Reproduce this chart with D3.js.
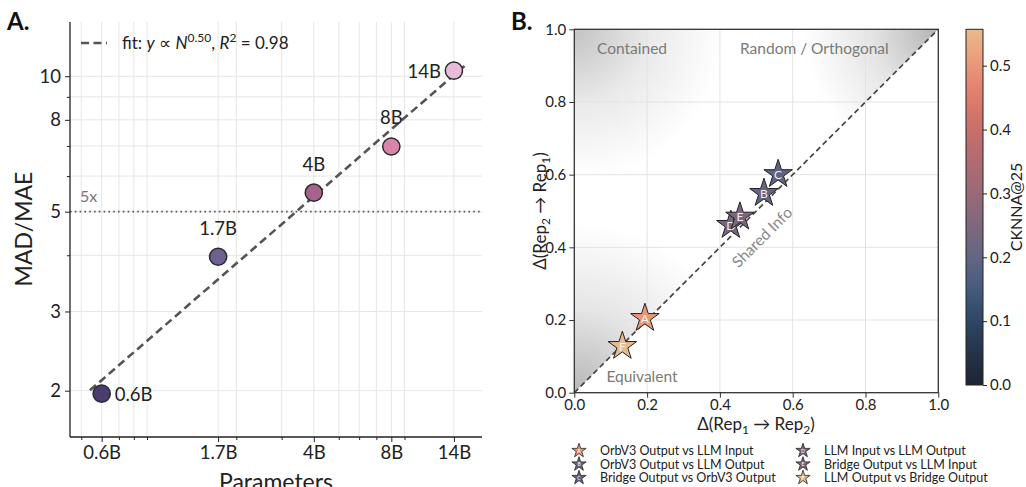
<!DOCTYPE html>
<html>
<head>
<meta charset="utf-8">
<script src="https://cdn.jsdelivr.net/npm/d3@7"></script>
<style>
  body { margin: 0; background: #fff; }
  svg text { font-family: Lato, "DejaVu Sans", sans-serif; }
</style>
</head>
<body>
<svg id="chart" width="1026" height="487"></svg>
<script>
// ---- panel A : scaling of MAD/MAE with model size
const model_names  = ['0.6B', '1.7B', '4B', '8B', '14B'];
const model_params = [0.6, 1.7, 4, 8, 14];            // billions
const mad_mae      = [1.97, 3.97, 5.51, 6.98, 10.29];
const model_colors = ['#4a3d6e', '#705f91', '#a8628e', '#d984ab', '#e8bcd8'];
const a_major_x = [0.6, 1.7, 4, 8, 14];
const a_minor_x = [0.5, 0.7, 0.8, 0.9, 2, 3, 5, 6, 7, 9];
const a_major_y = [2, 3, 5, 8, 10];
const a_minor_y = [4, 6, 7, 9];
const threshold = 5;

// ---- panel B : information deltas between representations
const pair_ids = ['A', 'B', 'C', 'D', 'E', 'F'];
const pair_names = [
  'OrbV3 Output vs LLM Input',
  'OrbV3 Output vs LLM Output',
  'Bridge Output vs OrbV3 Output',
  'LLM Input vs LLM Output',
  'Bridge Output vs LLM Input',
  'LLM Output vs Bridge Output'
];
const delta_12 = [0.194, 0.521, 0.560, 0.430, 0.455, 0.132];
const delta_21 = [0.205, 0.549, 0.601, 0.461, 0.484, 0.128];
const cknna    = [0.50, 0.20, 0.19, 0.235, 0.24, 0.557];
const b_ticks  = [0, 0.2, 0.4, 0.6, 0.8, 1.0];
const cb_ticks = [0, 0.1, 0.2, 0.3, 0.4, 0.5];
const cmap_colors = ['#1b2435', '#243447', '#2e4766', '#475b7e', '#656683', '#80687e',
                     '#9a6a77', '#b26b71', '#ca706b', '#df7f6c', '#ea9a7b', '#e8bb8e'];

const svg = d3.select('#chart');
const defs = svg.append('defs');

// =============== panel A ===============
let a_left = 70, a_right = 482, a_top = 22, a_bottom = 437;
let xA = d3.scaleLog().domain([0.452, 18]).range([a_left, a_right]);
let yA = d3.scaleLog().domain([1.578, 13.2]).range([a_bottom, a_top]);

let gA = svg.append('g').attr('class', 'panel_a');

// grid
gA.append('g').selectAll('line').data(a_major_x.concat(a_minor_x)).enter().append('line')
  .attr('x1', d => xA(d)).attr('x2', d => xA(d)).attr('y1', a_top).attr('y2', a_bottom)
  .attr('stroke', '#e6e6e6').attr('stroke-width', 1);
gA.append('g').selectAll('line').data(a_major_y.concat(a_minor_y)).enter().append('line')
  .attr('y1', d => yA(d)).attr('y2', d => yA(d)).attr('x1', a_left).attr('x2', a_right)
  .attr('stroke', '#e6e6e6').attr('stroke-width', 1);

// 5x threshold
gA.append('line')
  .attr('x1', a_left).attr('x2', a_right).attr('y1', yA(threshold)).attr('y2', yA(threshold))
  .attr('stroke', '#555').attr('stroke-width', 1.8).attr('stroke-dasharray', '1.6,3.2');
gA.append('text').attr('x', 80).attr('y', yA(threshold) - 10)
  .attr('fill', '#777').attr('font-size', 16).text(threshold + 'x');

// power-law fit in log-log space
let lx = model_params.map(Math.log10), ly = mad_mae.map(Math.log10);
let mx = d3.mean(lx), my = d3.mean(ly);
let sxy = d3.sum(lx, (v, i) => (v - mx) * (ly[i] - my));
let sxx = d3.sum(lx, v => (v - mx) * (v - mx));
let slope = sxy / sxx, icpt = my - slope * mx;
let ss_res = d3.sum(lx, (v, i) => Math.pow(ly[i] - (icpt + slope * v), 2));
let ss_tot = d3.sum(ly, v => (v - my) * (v - my));
let r2 = 1 - ss_res / ss_tot;
let fit_x = [d3.min(model_params) * 0.9, d3.max(model_params) * 1.1];
let fitLine = d3.line().x(d => xA(d)).y(d => yA(Math.pow(10, icpt + slope * Math.log10(d))));
gA.append('path').attr('d', fitLine(fit_x))
  .attr('fill', 'none').attr('stroke', '#555').attr('stroke-width', 2.6).attr('stroke-dasharray', '8,4.5');

// axes
let axA_x = d3.axisBottom(xA).tickValues(a_major_x).tickFormat((d, i) => model_names[i]).tickSize(5).tickPadding(4);
let axA_xm = d3.axisBottom(xA).tickValues(a_minor_x).tickFormat('').tickSize(3);
let axA_y = d3.axisLeft(yA).tickValues(a_major_y).tickFormat(d3.format('d')).tickSize(5).tickPadding(4);
let axA_ym = d3.axisLeft(yA).tickValues(a_minor_y).tickFormat('').tickSize(3);
[axA_x, axA_xm].forEach(ax => gA.append('g').attr('class', 'axis').attr('transform', 'translate(0,' + a_bottom + ')').call(ax));
[axA_y, axA_ym].forEach(ax => gA.append('g').attr('class', 'axis').attr('transform', 'translate(' + a_left + ',0)').call(ax));
gA.selectAll('.axis path.domain').remove();
gA.append('line').attr('x1', a_left).attr('x2', a_left).attr('y1', a_top).attr('y2', a_bottom).attr('stroke', '#222').attr('stroke-width', 1.3);
gA.append('line').attr('x1', a_left).attr('x2', a_right).attr('y1', a_bottom).attr('y2', a_bottom).attr('stroke', '#222').attr('stroke-width', 1.3);
gA.selectAll('.axis text').attr('font-size', 18.5).attr('fill', '#222');
gA.selectAll('.axis line').attr('stroke', '#222');

// points
gA.append('g').selectAll('circle').data(model_params).enter().append('circle')
  .attr('cx', d => xA(d)).attr('cy', (d, i) => yA(mad_mae[i])).attr('r', 8.6)
  .attr('fill', (d, i) => model_colors[i]).attr('stroke', '#2a2a2a').attr('stroke-width', 1.5);

// point labels: first to the right, last to the left, others above
let n_models = model_names.length;
gA.append('g').selectAll('text').data(model_names).enter().append('text')
  .attr('x', (d, i) => i == 0 ? xA(model_params[i]) + 13 : i == n_models - 1 ? xA(model_params[i]) - 13 : xA(model_params[i]))
  .attr('y', (d, i) => i == 0 || i == n_models - 1 ? yA(mad_mae[i]) + 7 : yA(mad_mae[i]) - 22)
  .attr('text-anchor', (d, i) => i == 0 ? 'start' : i == n_models - 1 ? 'end' : 'middle')
  .attr('font-size', 18.5).attr('fill', '#222').text(d => d);

// legend
gA.append('line').attr('x1', 81).attr('x2', 107).attr('y1', 43).attr('y2', 43)
  .attr('stroke', '#555').attr('stroke-width', 2.6).attr('stroke-dasharray', '8,4.5');
let lt = gA.append('text').attr('x', 122).attr('y', 48.5).attr('font-size', 17).attr('fill', '#222');
lt.append('tspan').text('fit: ');
lt.append('tspan').attr('font-style', 'italic').text('y');
lt.append('tspan').text(' \u221d ');
lt.append('tspan').attr('font-style', 'italic').text('N');
lt.append('tspan').attr('font-size', 12).attr('dy', -7).text(slope.toFixed(2));
lt.append('tspan').attr('dy', 7).text(', ');
lt.append('tspan').attr('font-style', 'italic').text('R');
lt.append('tspan').attr('font-size', 12).attr('dy', -7).text('2');
lt.append('tspan').attr('dy', 7).text(' = ' + r2.toFixed(2));

// labels
svg.append('text').attr('transform', 'translate(32,229) rotate(-90)').attr('text-anchor', 'middle')
  .attr('font-size', 23).attr('fill', '#222').text('MAD/MAE');
svg.append('text').attr('x', 276).attr('y', 490).attr('text-anchor', 'middle')
  .attr('font-size', 23).attr('fill', '#222').text('Parameters');
svg.append('text').attr('x', 7).attr('y', 30).attr('font-size', 24).attr('font-weight', 'bold').attr('fill', '#111').text('A.');
svg.append('text').attr('x', 511).attr('y', 30).attr('font-size', 24).attr('font-weight', 'bold').attr('fill', '#111').text('B.');

// =============== panel B ===============
let b_left = 574.3, b_right = 938.3, b_top = 29.3, b_bottom = 392.7;
let xB = d3.scaleLinear().domain([0, 1]).range([b_left, b_right]);
let yB = d3.scaleLinear().domain([0, 1]).range([b_bottom, b_top]);
let gB = svg.append('g').attr('class', 'panel_b');

let vmax = d3.max(cknna);
let cmap = d3.scaleLinear().domain(cmap_colors.map((c, i) => i / (cmap_colors.length - 1) * vmax))
  .range(cmap_colors).interpolate(d3.interpolateRgb).clamp(true);

// shaded triangle above the diagonal
defs.append('clipPath').attr('id', 'tri').append('path')
  .attr('d', 'M' + xB(0) + ',' + yB(0) + 'L' + xB(0) + ',' + yB(1) + 'L' + xB(1) + ',' + yB(1) + 'Z');
let corners = [
  {id: 'g_tl', cx: xB(0), cy: yB(1), r: 150, c: '#b8b8b8', o: 0.85},
  {id: 'g_tr', cx: xB(1), cy: yB(1), r: 135, c: '#a6a6a6', o: 0.85},
  {id: 'g_bl', cx: xB(0), cy: yB(0), r: 170, c: '#aaaaaa', o: 0.85}
];
corners.forEach(c => {
  let rg = defs.append('radialGradient').attr('id', c.id).attr('gradientUnits', 'userSpaceOnUse')
    .attr('cx', c.cx).attr('cy', c.cy).attr('r', c.r);
  rg.append('stop').attr('offset', 0).attr('stop-color', c.c).attr('stop-opacity', c.o);
  rg.append('stop').attr('offset', 0.5).attr('stop-color', c.c).attr('stop-opacity', c.o * 0.35);
  rg.append('stop').attr('offset', 1).attr('stop-color', c.c).attr('stop-opacity', 0);
});
let shade = gB.append('g').attr('clip-path', 'url(#tri)');
corners.forEach(c => {
  shade.append('rect').attr('x', b_left).attr('y', b_top).attr('width', b_right - b_left).attr('height', b_bottom - b_top)
    .attr('fill', 'url(#' + c.id + ')');
});

// grid
gB.append('g').selectAll('line').data(b_ticks.slice(1, -1)).enter().append('line')
  .attr('x1', d => xB(d)).attr('x2', d => xB(d)).attr('y1', b_top).attr('y2', b_bottom)
  .attr('stroke', '#e3e3e3').attr('stroke-width', 1);
gB.append('g').selectAll('line').data(b_ticks.slice(1, -1)).enter().append('line')
  .attr('y1', d => yB(d)).attr('y2', d => yB(d)).attr('x1', b_left).attr('x2', b_right)
  .attr('stroke', '#e3e3e3').attr('stroke-width', 1);

// region labels
let region = gB.append('g').attr('fill', '#7a7a7a').attr('font-size', 15.5);
region.append('text').attr('x', 597).attr('y', 54).text('Contained');
region.append('text').attr('x', 740).attr('y', 54).text('Random / Orthogonal');
region.append('text').attr('x', 642).attr('y', 382).attr('text-anchor', 'middle').text('Equivalent');
region.append('text').attr('transform', 'translate(766,241) rotate(-45)').attr('text-anchor', 'middle').attr('fill', '#888').text('Shared Info');

// diagonal
gB.append('line').attr('x1', xB(0)).attr('y1', yB(0)).attr('x2', xB(1)).attr('y2', yB(1))
  .attr('stroke', '#444').attr('stroke-width', 1.7).attr('stroke-dasharray', '5.5,3.5');

// axes
let axB_x = d3.axisBottom(xB).tickValues(b_ticks).tickFormat(d3.format('.1f')).tickSize(5).tickPadding(2);
let axB_y = d3.axisLeft(yB).tickValues(b_ticks).tickFormat(d3.format('.1f')).tickSize(5).tickPadding(3);
gB.append('g').attr('class', 'axis').attr('transform', 'translate(0,' + b_bottom + ')').call(axB_x);
gB.append('g').attr('class', 'axis').attr('transform', 'translate(' + b_left + ',0)').call(axB_y);
gB.selectAll('.axis path.domain').remove();
gB.selectAll('.axis text').attr('font-size', 15).attr('fill', '#222');
gB.selectAll('.axis line').attr('stroke', '#333');
gB.append('rect').attr('x', b_left).attr('y', b_top).attr('width', b_right - b_left).attr('height', b_bottom - b_top)
  .attr('fill', 'none').attr('stroke', '#333').attr('stroke-width', 1.3);

// stars
let star = d3.symbol().type(d3.symbolStar);
let starR = 15, legR = 7.5;
let sg = gB.append('g').selectAll('g').data(pair_ids).enter().append('g')
  .attr('transform', (d, i) => 'translate(' + xB(delta_12[i]) + ',' + yB(delta_21[i]) + ')');
sg.append('path').attr('d', star.size(starR * starR / 0.8908130915292852)())
  .attr('fill', (d, i) => cmap(cknna[i])).attr('stroke', '#222').attr('stroke-width', 1);
sg.append('text').attr('y', 4.5).attr('text-anchor', 'middle').attr('font-size', 12)
  .attr('fill', '#fff').attr('fill-opacity', 0.9).text(d => d);

// axis titles
let xt = svg.append('text').attr('x', 756).attr('y', 430).attr('text-anchor', 'middle').attr('font-size', 17).attr('fill', '#222');
xt.append('tspan').text('\u0394(Rep');
xt.append('tspan').attr('font-size', 12).attr('dy', 4).text('1');
xt.append('tspan').attr('dy', -4).text(' \u2192 Rep');
xt.append('tspan').attr('font-size', 12).attr('dy', 4).text('2');
xt.append('tspan').attr('dy', -4).text(')');
let yt = svg.append('text').attr('transform', 'translate(546,211) rotate(-90)').attr('text-anchor', 'middle').attr('font-size', 17).attr('fill', '#222');
yt.append('tspan').text('\u0394(Rep');
yt.append('tspan').attr('font-size', 12).attr('dy', 4).text('2');
yt.append('tspan').attr('dy', -4).text(' \u2192 Rep');
yt.append('tspan').attr('font-size', 12).attr('dy', 4).text('1');
yt.append('tspan').attr('dy', -4).text(')');

// legend
let leg = svg.append('g').attr('class', 'legend').selectAll('g').data(pair_ids).enter().append('g')
  .attr('transform', (d, i) => 'translate(' + (i < 3 ? 579 : 803) + ',' + (450.7 + (i % 3) * 13.5) + ')');
leg.append('path').attr('d', star.size(legR * legR / 0.8908130915292852)())
  .attr('fill', (d, i) => cmap(cknna[i])).attr('stroke', '#222').attr('stroke-width', 0.8);
leg.append('text').attr('y', 2).attr('text-anchor', 'middle').attr('font-size', 5).attr('fill', '#fff').text(d => d);
leg.append('text').attr('x', 21).attr('y', 4.5).attr('font-size', 12.5).attr('fill', '#222').text((d, i) => pair_names[i]);

// colorbar
let cb_x = 966, cb_w = 17, cb_top = 29.3, cb_bottom = 385;
let yC = d3.scaleLinear().domain([0, vmax]).range([cb_bottom, cb_top]);
let lg = defs.append('linearGradient').attr('id', 'cbar').attr('x1', 0).attr('x2', 0).attr('y1', 1).attr('y2', 0);
cmap_colors.forEach((c, i) => lg.append('stop').attr('offset', i / (cmap_colors.length - 1)).attr('stop-color', c));
let gC = svg.append('g').attr('class', 'colorbar');
gC.append('rect').attr('x', cb_x).attr('y', cb_top).attr('width', cb_w).attr('height', cb_bottom - cb_top)
  .attr('fill', 'url(#cbar)').attr('stroke', '#222').attr('stroke-width', 1);
let axC = d3.axisRight(yC).tickValues(cb_ticks).tickFormat(d3.format('.1f')).tickSize(4).tickPadding(3);
gC.append('g').attr('class', 'axis').attr('transform', 'translate(' + (cb_x + cb_w) + ',0)').call(axC);
gC.selectAll('path.domain').remove();
gC.selectAll('.axis text').attr('font-size', 15).attr('fill', '#222');
gC.selectAll('.axis line').attr('stroke', '#222');
svg.append('text').attr('transform', 'translate(1022,207) rotate(-90)').attr('text-anchor', 'middle')
  .attr('font-size', 16).attr('fill', '#222').text('CKNNA@25');
</script>
</body>
</html>
